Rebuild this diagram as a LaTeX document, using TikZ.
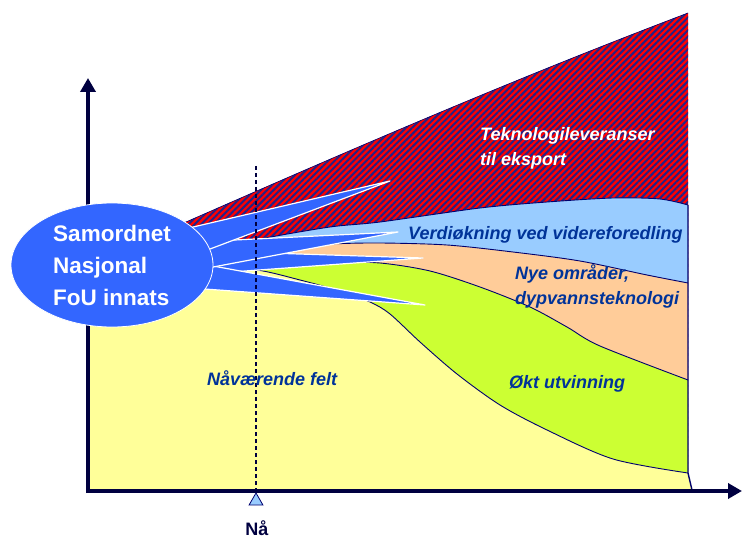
\documentclass[tikz,border=0pt]{standalone}
\usepackage{fontspec}
\setmainfont{Liberation Sans}
\usetikzlibrary{arrows.meta,shapes.geometric,patterns.meta}
\definecolor{axisnavy}{RGB}{0,0,64}
\definecolor{navyline}{RGB}{0,0,110}
\definecolor{hatchred}{RGB}{255,0,0}
\definecolor{hatchblue}{RGB}{34,34,136}
\definecolor{valueblue}{RGB}{153,204,255}
\definecolor{newpeach}{RGB}{255,204,153}
\definecolor{recgreen}{RGB}{204,255,51}
\definecolor{fieldyellow}{RGB}{255,255,153}
\definecolor{foublue}{RGB}{51,102,255}
\definecolor{labelblue}{RGB}{0,51,153}

\begin{document}
\begin{tikzpicture}[x=1pt,y=-1pt,
bandtext/.style={font=\fontsize{18}{25}\selectfont\bfseries\itshape,text=labelblue,
inner sep=0pt,align=left},
bound/.style={draw=navyline,line width=0.9pt},
axis/.style={line width=4pt,axisnavy,-{Triangle[length=14pt,width=15pt]}},
ray/.style={fill=foublue,draw=white,line width=1.2pt,line join=round}]
\useasboundingbox (0,0) rectangle (742,540);
% bands, from the top one down
\fill[hatchred,postaction={pattern={Lines[angle=45,distance=4.5pt,line width=2pt]},
pattern color=hatchblue}] (88,490) -- (88,265) .. controls (300,172) and (480,92) .. (688,13)
-- (688,490) -- cycle;
\fill[valueblue] (88,490) -- (88,262) -- plot[smooth] coordinates {(200,252) (260,239)
(330,227) (380,222) (480,208) (547,202) (613,198) (660,199) (688,205)} -- (688,490) -- cycle;
\fill[newpeach] (88,490) -- (88,264) -- plot[smooth] coordinates {(200,254) (260,248)
(330,244) (380,243) (447,245) (513,252) (580,261) (647,275) (688,283)} -- (688,490) -- cycle;
\fill[recgreen] (88,490) -- (88,266) -- plot[smooth] coordinates {(200,258) (260,259)
(330,262) (380,263) (430,271) (480,287) (530,307) (567,327) (600,346) (688,380)}
-- (688,490) -- cycle;
\fill[fieldyellow] (88,490) -- (88,268) -- plot[smooth] coordinates {(200,266) (257,270)
(300,280) (340,291) (370,302) (390,314) (420,342) (457,374) (500,405) (547,430) (613,459)
(688,473)} -- (692,490) -- cycle;
\draw[bound,line width=0.6pt] (88,265) .. controls (300,172) and (480,92) .. (688,13);
\draw[bound] plot[smooth] coordinates {(200,252) (260,239) (330,227) (380,222) (480,208)
(547,202) (613,198) (660,199) (688,205)};
\draw[bound] plot[smooth] coordinates {(200,254) (260,248) (330,244) (380,243) (447,245)
(513,252) (580,261) (647,275) (688,283)};
\draw[bound] plot[smooth] coordinates {(200,258) (260,259) (330,262) (380,263) (430,271)
(480,287) (530,307) (567,327) (600,346) (688,380)};
\draw[bound] plot[smooth] coordinates {(200,266) (257,270) (300,280) (340,291) (370,302)
(390,314) (420,342) (457,374) (500,405) (547,430) (613,459) (688,473)};
\draw[bound,line width=1.4pt] (688,205) -- (688,473) -- (692,490);
% rays of the callout
\draw[ray] (200,250.8) -- (423,258) -- (200,274.3) -- cycle;
\draw[ray] (200,263.6) -- (425,305) -- (195,288.3) -- cycle;
\draw[ray] (200,241.7) -- (398,232) -- (200,269.5) -- cycle;
\draw[ray] (185,228.9) -- (390,181) -- (200,252.8) -- cycle;
\coordinate (origin) at (88,491);
\coordinate (ytip) at (88,78);
\coordinate (xtip) at (742,491);
\coordinate (nowtop) at (256,166);
\coordinate (nowbase) at (256,490);
\draw[axisnavy,line width=2pt,dash pattern=on 4pt off 3pt] (nowtop) -- (nowbase);
\draw[axis] ([yshift=-2pt]origin) -- (ytip);
\draw[axis] ([xshift=-2pt]origin) -- (xtip);
\node[regular polygon,regular polygon sides=3,minimum size=16pt,inner sep=0pt,
fill=valueblue,draw=navyline,line width=0.8pt] (now) at (256,501) {};
\node[ellipse,fill=foublue,draw=white,line width=0.8pt,minimum width=202pt,
minimum height=124pt,inner sep=0pt,text=white,align=left,
font=\fontsize{22.5}{32}\selectfont\bfseries] (fou) at (112,265)
{Samordnet\\Nasjonal\\FoU innats};
\node[bandtext,text=white,anchor=west] (export) at (480,148) {Teknologileveranser\\til eksport};
\node[bandtext,anchor=base west] (value) at (408,240) {Verdiøkning ved videreforedling};
\node[bandtext,anchor=west] (newareas) at (515,286) {Nye områder,\\dypvannsteknologi};
\node[bandtext,anchor=base west] (recovery) at (509,388) {Økt utvinning};
\node[bandtext,anchor=base west] (fields) at (207,385) {Nåværende felt};
\node[font=\fontsize{18}{18}\selectfont\bfseries,text=axisnavy,anchor=base,inner sep=0pt]
(nowlabel) at (257,535) {Nå};
\end{tikzpicture}
\end{document}
